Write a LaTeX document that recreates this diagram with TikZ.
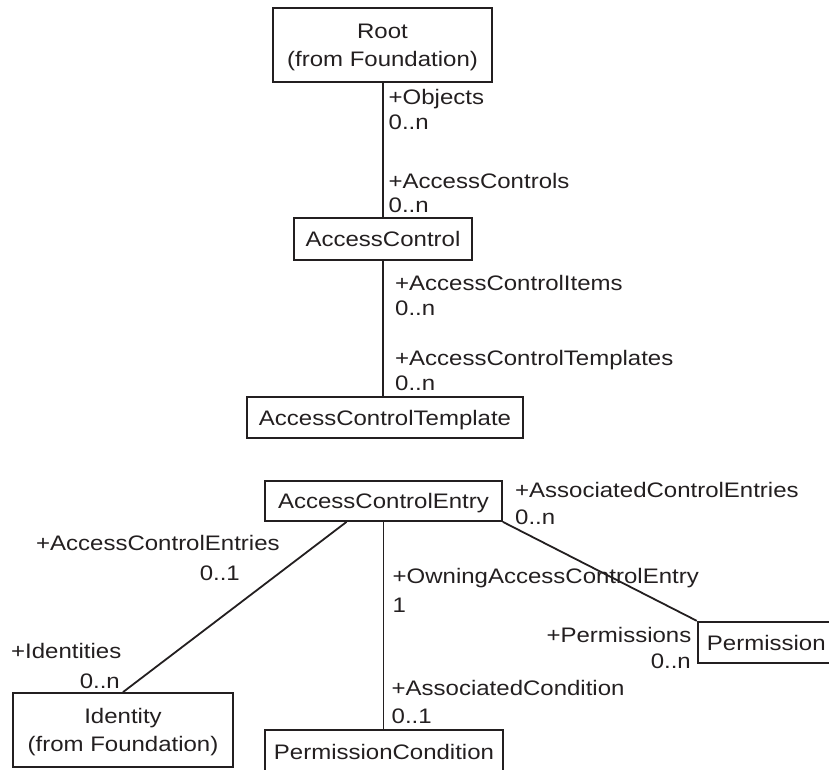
\documentclass[tikz,border=0pt]{standalone}
\usepackage{fontspec}
\usepackage{graphicx}
\setmainfont{Liberation Sans}
\usetikzlibrary{calc}
\definecolor{ink}{RGB}{35,31,32}
% glyphs in this diagram are set slightly flatter than the font's natural shape
\newcommand\squash[1]{\scalebox{1}[0.875]{#1}}
\begin{document}
\begin{tikzpicture}[x=1pt,y=-1pt,
  every node/.style={font=\fontsize{24}{28}\selectfont, text=ink, inner sep=0pt},
  cls/.style={draw=ink, line width=1.8pt, text height=15pt, text depth=0pt},
  cls2/.style={draw=ink, line width=1.8pt, align=center, text depth=0pt},
  role/.style={anchor=base west},
  roler/.style={anchor=base east},
  assoc/.style={draw=ink, line width=1.8pt}]
\useasboundingbox (0,0) rectangle (829,769);

% classes
\node[cls2, minimum width=219pt, minimum height=74pt] (root) at (382.5,45)
  {\squash{Root}\\\squash{(from Foundation)}};
\node[cls, minimum width=178pt, minimum height=42pt] (ac) at (383,239) {\squash{AccessControl}};
\node[cls, minimum width=276pt, minimum height=41pt] (act) at (385,417.5) {\squash{AccessControlTemplate}};
\node[cls, minimum width=237pt, minimum height=40pt] (ace) at (383.5,501) {\squash{AccessControlEntry}};
\node[cls2, minimum width=220pt, minimum height=74pt] (identity) at (123,730)
  {\squash{Identity}\\\squash{(from Foundation)}};
\node[cls, minimum width=237.5pt, minimum height=43pt] (permcond) at (384,751.5) {\squash{PermissionCondition}};
\node[cls, minimum width=137.3pt, minimum height=41.6pt] (permission) at (766.3,642.5) {\squash{Permission}};

% associations
\draw[assoc] (root.south -| ac.north) -- (ac.north);
\draw[assoc] (ac.south) -- (ac.south |- act.north);
\draw[assoc] ($(ace.south)+(-37,0)$) -- (identity.north);
\draw[assoc] (ace.south) -- (ace.south |- permcond.north);
\draw[assoc] (ace.south east) -- (permission.north west);

% association ends: Root -- AccessControl
\node[role] (rObj) at (388.5,104) {\squash{+Objects}};
\node[role] (mObj) at (388.5,129) {\squash{0..n}};
\node[role] (rAC) at (388.5,188) {\squash{+AccessControls}};
\node[role] (mAC) at (388.5,212) {\squash{0..n}};

% AccessControl -- AccessControlTemplate
\node[role] (rACI) at (395,290) {\squash{+AccessControlItems}};
\node[role] (mACI) at (395,315) {\squash{0..n}};
\node[role] (rACT) at (395,365) {\squash{+AccessControlTemplates}};
\node[role] (mACT) at (395,390) {\squash{0..n}};

% AccessControlEntry -- Permission
\node[role] (rACE) at (515,497) {\squash{+AssociatedControlEntries}};
\node[role] (mACE) at (515,524) {\squash{0..n}};
\node[roler] (rPerm) at (691.5,642) {\squash{+Permissions}};
\node[roler] (mPerm) at (691,668) {\squash{0..n}};

% AccessControlEntry -- PermissionCondition
\node[role] (rOwn) at (392.5,583) {\squash{+OwningAccessControlEntry}};
\node[role] (mOwn) at (392.5,612) {\squash{1}};
\node[role] (rCond) at (391.5,695) {\squash{+AssociatedCondition}};
\node[role] (mCond) at (391.5,723) {\squash{0..1}};

% AccessControlEntry -- Identity
\node[role] (rEnt) at (36,550.5) {\squash{+AccessControlEntries}};
\node[roler] (mEnt) at (240,580) {\squash{0..1}};
\node[role] (rId) at (11,658) {\squash{+Identities}};
\node[roler] (mId) at (120,688) {\squash{0..n}};
\end{tikzpicture}
\end{document}
